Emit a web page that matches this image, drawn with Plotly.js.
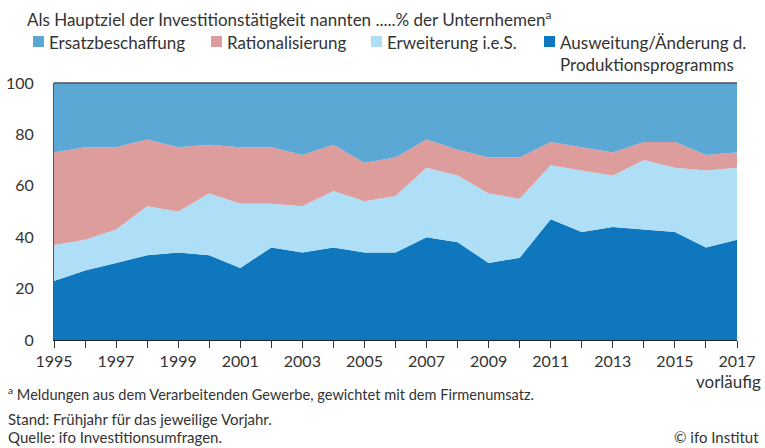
<!DOCTYPE html>
<html>
<head>
<meta charset="utf-8">
<script src="https://cdn.plot.ly/plotly-3.0.1.min.js"></script>
<style>html,body{margin:0;padding:0;background:#fff;}#chart{width:765px;height:448px;}</style>
</head>
<body>
<div id="chart"></div>
<script>
// ---- data ----
const years = [1995,1996,1997,1998,1999,2000,2001,2002,2003,2004,2005,2006,2007,2008,2009,2010,2011,2012,2013,2014,2015,2016,2017];
const ausweitung   = [23,27,30,33,34,33,28,36,34,36,34,34,40,38,30,32,47,42,44,43,42,36,39];
const erweiterung  = [14,12,13,19,16,24,25,17,18,22,20,22,27,26,27,23,21,24,20,27,25,30,28];
const rational     = [36,36,32,26,25,19,22,22,20,18,15,15,11,10,14,16, 9, 9, 9, 7,10, 6, 6];
const ersatz       = [27,25,25,22,25,24,25,25,28,24,31,29,22,26,29,29,23,25,27,23,23,28,27];
const seriesNames  = ["Ersatzbeschaffung","Rationalisierung","Erweiterung i.e.S.","Ausweitung/Änderung d.<br>Produktionsprogramms"];
const xTickVals = years.filter(y => y % 2 === 1);
const xTickText = xTickVals.map(String);
const yTickVals = [0,20,40,60,80,100];

const title = "Als Hauptziel der Investitionstätigkeit nannten .....% der Unternhemen<sup>a</sup>";
const footnote = "<sup>a</sup> Meldungen aus dem Verarbeitenden Gewerbe, gewichtet mit dem Firmenumsatz.";
const stand = "Stand: Frühjahr für das jeweilige Vorjahr.";
const quelle = "Quelle: ifo Investitionsumfragen.";
const copyright = "© ifo Institut";
const vorl = "vorläufig";

const colors = {ersatz:"#5BA8D4", rational:"#DE9D9D", erweiterung:"#AEDFF7", ausweitung:"#0F77BD"};

// ---- layout geometry ----
const W = 765, H = 448;
const L = 54, R = 737, T = 83, B = 340;
const px = x => (x - L) / (R - L);
const py = y => (B - y) / (B - T);

const FONT = "Lato, 'Source Sans Pro', sans-serif";
const TXT = "#333333";

function tr(name, y, color) {
  return {x: years, y: y, name: name, type: "scatter", mode: "none",
          stackgroup: "one", fill: "tonexty", fillcolor: color,
          line: {width: 0, color: color}, hoverinfo: "skip", showlegend: false};
}
const data = [
  tr(seriesNames[3], ausweitung, colors.ausweitung),
  tr(seriesNames[2], erweiterung, colors.erweiterung),
  tr(seriesNames[1], rational, colors.rational),
  tr(seriesNames[0], ersatz, colors.ersatz)
];

const legendItems = [
  {name: seriesNames[0], color: colors.ersatz, x: 33},
  {name: seriesNames[1], color: colors.rational, x: 211},
  {name: seriesNames[2], color: colors.erweiterung, x: 371},
  {name: seriesNames[3], color: colors.ausweitung, x: 544}
];

const shapes = [];
const annotations = [];
legendItems.forEach(it => {
  shapes.push({type:"rect", xref:"paper", yref:"paper",
    x0: px(it.x), x1: px(it.x + 11), y0: py(47), y1: py(36),
    fillcolor: it.color, line: {width: 0}});
  annotations.push({xref:"paper", yref:"paper", x: px(it.x + 14), y: py(30),
    xanchor:"left", yanchor:"top", align:"left", showarrow:false, text: it.name,
    font:{family:FONT, size:17, color:TXT}});
});
// top frame line
shapes.push({type:"line", xref:"paper", yref:"paper", x0:0, x1:1, y0:1, y1:1,
  line:{color:"#4a5560", width:1.5}});

annotations.push({xref:"paper", yref:"paper", x: px(25), y: py(5), xanchor:"left", yanchor:"top",
  showarrow:false, text: title, font:{family:FONT, size:17, color:TXT}});
annotations.push({xref:"paper", yref:"paper", x: px(763), y: py(369), xanchor:"right", yanchor:"top",
  showarrow:false, text: vorl, font:{family:FONT, size:17, color:TXT}});
annotations.push({xref:"paper", yref:"paper", x: px(6), y: py(382), xanchor:"left", yanchor:"top",
  showarrow:false, text: footnote, font:{family:FONT, size:14.6, color:TXT}});
annotations.push({xref:"paper", yref:"paper", x: px(6), y: py(408), xanchor:"left", yanchor:"top",
  showarrow:false, text: stand, font:{family:FONT, size:15, color:TXT}});
annotations.push({xref:"paper", yref:"paper", x: px(6), y: py(426), xanchor:"left", yanchor:"top",
  showarrow:false, text: quelle, font:{family:FONT, size:15, color:TXT}});
annotations.push({xref:"paper", yref:"paper", x: px(761), y: py(426), xanchor:"right", yanchor:"top",
  showarrow:false, text: copyright, font:{family:FONT, size:15, color:TXT}});

const layout = {
  width: W, height: H,
  margin: {l: L, r: W - R, t: T, b: H - B, pad: 0},
  paper_bgcolor: "#ffffff", plot_bgcolor: "#ffffff",
  showlegend: false,
  font: {family: FONT, size: 16, color: TXT},
  xaxis: {range: [1995, 2017], tickvals: xTickVals, ticktext: xTickText,
    ticks: "outside", ticklen: 7, tickwidth: 1, tickcolor: "#333",
    minor: {tick0: 1995, dtick: 1, ticks: "outside", ticklen: 7, tickwidth: 1, tickcolor: "#333", showgrid: false},
    showline: true, linecolor: "#222", linewidth: 1.2, showgrid: false, zeroline: false,
    tickfont: {family: FONT, size: 16, color: TXT}, fixedrange: true},
  yaxis: {range: [0, 100], tickvals: yTickVals, ticks: "", showgrid: false, zeroline: false,
    showline: true, linecolor: "#555", linewidth: 1,
    ticklabelstandoff: 16,
    tickfont: {family: FONT, size: 16, color: TXT}, fixedrange: true},
  shapes: shapes,
  annotations: annotations
};

Plotly.newPlot("chart", data, layout, {staticPlot: true, displayModeBar: false});
</script>
</body>
</html>
